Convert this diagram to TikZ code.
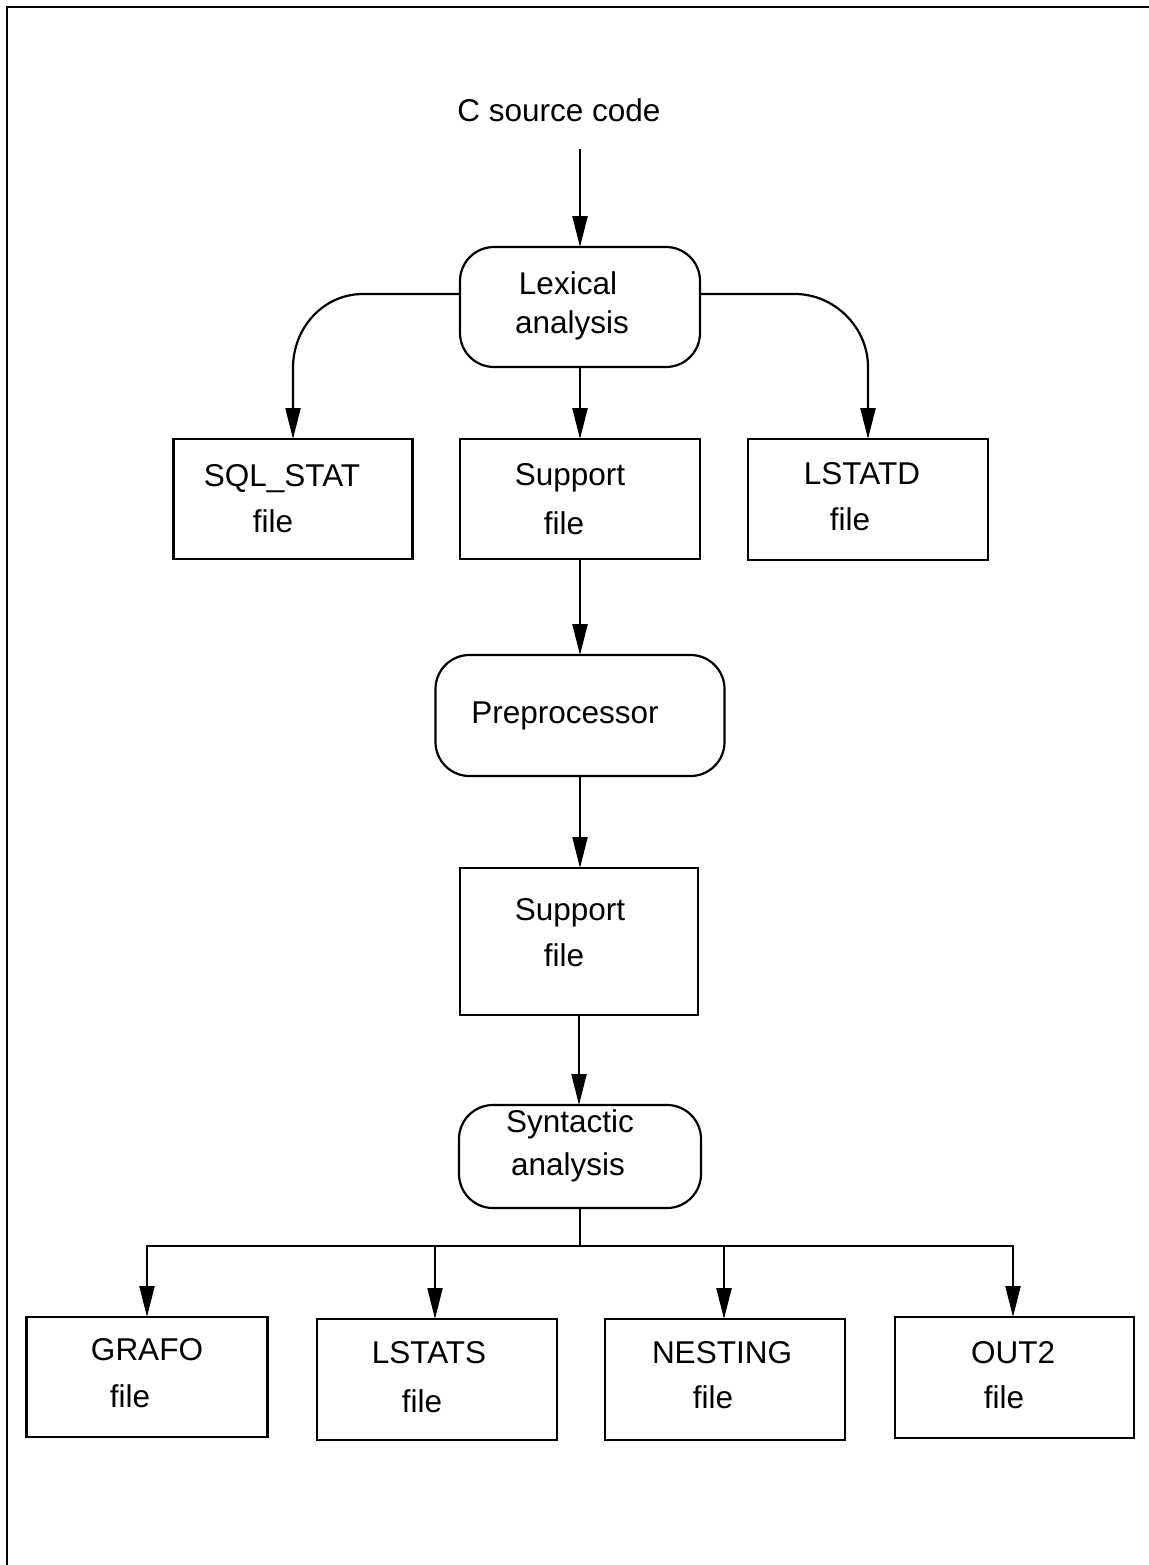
\documentclass[tikz,border=0pt]{standalone}
\usepackage{fontspec}
\setmainfont{Liberation Sans}
\usetikzlibrary{arrows.meta}

\begin{document}
\begin{tikzpicture}[
  x=1pt, y=-1pt,
  line width=2.2pt,
  every node/.style={inner sep=0pt, outer sep=0pt},
  filebox/.style={draw, rectangle, line width=2.2pt},
  procbox/.style={draw, rectangle, rounded corners=34pt, line width=2.2pt},
  lbl/.style={font=\fontsize{31.5}{37}\selectfont, anchor=base},
  conn/.style={draw, line width=2.2pt},
  arr/.style={conn, -{Triangle[length=31pt, width=15pt]}},
]
\useasboundingbox (0,0) rectangle (1148,1565);

% frame (open on the right and bottom)
\draw[line width=2.6pt] (7,1570) -- (7,7) -- (1150,7);

% process boxes
\node[procbox, minimum width=240pt, minimum height=120pt] (lex) at (580,307) {};
\node[procbox, minimum width=289pt, minimum height=121pt] (pre) at (580,715.5) {};
\node[procbox, minimum width=242pt, minimum height=103pt] (syn) at (580,1156.5) {};

% file boxes
\node[filebox, minimum width=239pt, minimum height=120pt] (sql) at (293,499) {};
\node[filebox, minimum width=240pt, minimum height=120pt] (sup1) at (580,499) {};
\node[filebox, minimum width=240pt, minimum height=121pt] (lstatd) at (868,499.5) {};
\node[filebox, minimum width=238pt, minimum height=147pt] (sup2) at (579,941.5) {};
\node[filebox, minimum width=241pt, minimum height=120pt] (grafo) at (147,1377) {};
\node[filebox, minimum width=240pt, minimum height=121pt] (lstats) at (437,1379.5) {};
\node[filebox, minimum width=240pt, minimum height=121pt] (nesting) at (725,1379.5) {};
\node[filebox, minimum width=239pt, minimum height=121pt] (out2) at (1014.5,1377.5) {};

% texts
\node[lbl] (srctxt) at (559,122) {C source code};
\node[lbl] (lext1) at (568,294) {Lexical};
\node[lbl] (lext2) at (572,333) {analysis};
\node[lbl] (sqlt1) at (282,486) {SQL\_STAT};
\node[lbl] (sqlt2) at (273,532) {file};
\node[lbl] (sup1t1) at (570,485) {Support};
\node[lbl] (sup1t2) at (564,534) {file};
\node[lbl] (lstatdt1) at (862,484) {LSTATD};
\node[lbl] (lstatdt2) at (850,530) {file};
\node[lbl] (pret) at (565,723) {Preprocessor};
\node[lbl] (sup2t1) at (570,920) {Support};
\node[lbl] (sup2t2) at (564,966) {file};
\node[lbl] (synt1) at (570,1132) {Syntactic};
\node[lbl] (synt2) at (568,1175) {analysis};
\node[lbl] (grafot1) at (147,1360) {GRAFO};
\node[lbl] (grafot2) at (130,1407) {file};
\node[lbl] (lstatst1) at (429,1363) {LSTATS};
\node[lbl] (lstatst2) at (422,1412) {file};
\node[lbl] (nestingt1) at (722,1363) {NESTING};
\node[lbl] (nestingt2) at (713,1408) {file};
\node[lbl] (out2t1) at (1013,1363) {OUT2};
\node[lbl] (out2t2) at (1004,1408) {file};

% connector end points
\coordinate (srcend) at (580,149);
\coordinate (bus) at (580,1246);

% connectors
\draw[arr] (srcend) -- (lex.north);
\draw[arr] ([yshift=13pt]lex.west) -- (363,294)
  .. controls +(-39,0) and +(0,-41) .. (293,368) -- (sql.north);
\draw[arr] ([yshift=13pt]lex.east) -- (795,294)
  .. controls +(39,0) and +(0,-40) .. (868,367) -- (lstatd.north);
\draw[arr] (lex.south) -- (sup1.north);
\draw[arr] (sup1.south) -- (sup1.south |- pre.north);
\draw[arr] (pre.south) -- (pre.south |- sup2.north);
\draw[arr] (sup2.south) -- (sup2.south |- syn.north);
\draw[conn] (syn.south) -- (bus);
\draw[arr] (bus) -| (grafo.north);
\draw[arr] (bus) -| (435,1319);
\draw[arr] (bus) -| (724,1319);
\draw[arr] (bus) -| (1013,1317);
\end{tikzpicture}
\end{document}
